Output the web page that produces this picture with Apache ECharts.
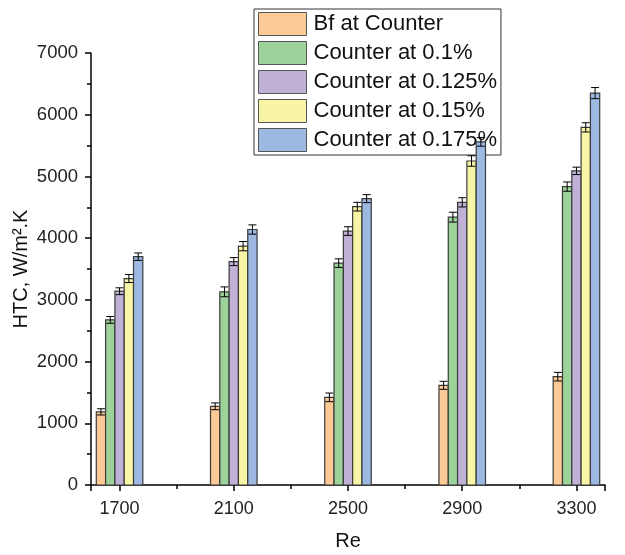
<!DOCTYPE html>
<html>
<head>
<meta charset="utf-8">
<script src="https://cdn.jsdelivr.net/npm/echarts@6/dist/echarts.min.js"></script>
<style>html,body{margin:0;padding:0;background:#fff;}#c{width:625px;height:555px;}</style>
</head>
<body>
<div id="c"></div>
<script>
const categories = ['1700', '2100', '2500', '2900', '3300'];
const seriesNames = ['Bf at Counter', 'Counter at 0.1%', 'Counter at 0.125%', 'Counter at 0.15%', 'Counter at 0.175%'];
const bfCounter   = [1185, 1275, 1420, 1615, 1755];
const counter010  = [2675, 3130, 3595, 4340, 4835];
const counter0125 = [3140, 3620, 4115, 4580, 5090];
const counter015  = [3345, 3870, 4510, 5250, 5795];
const counter0175 = [3700, 4140, 4640, 5560, 6350];
const errBf    = [50, 55, 70, 65, 70];
const err010   = [55, 80, 70, 80, 75];
const err0125  = [55, 65, 70, 75, 60];
const err015   = [65, 75, 70, 85, 75];
const err0175  = [60, 75, 65, 70, 90];
const yTicks = [0, 1000, 2000, 3000, 4000, 5000, 6000, 7000];

const values = [bfCounter, counter010, counter0125, counter015, counter0175];
const errors = [errBf, err010, err0125, err015, err0175];
const colors = ['#FDC997', '#9ED29B', '#C0B1D7', '#F8F5A7', '#9DB9E1'];

function makeSeries(k) {
  return {
    type: 'custom',
    name: seriesNames[k],
    z: 10,
    clip: false,
    itemStyle: { color: colors[k], borderColor: '#505050', borderWidth: 1 },
    encode: { x: 0, y: 1 },
    data: values[k].map((v, i) => [i, v, errors[k][i]]),
    renderItem: function (params, api) {
      const x = api.value(0), y = api.value(1), e = api.value(2);
      const unit = api.size([1, 0])[0];
      const bw = unit * 0.0815;
      const base = api.coord([x, 0]);
      const top = api.coord([x, y]);
      const cx = base[0] + (k - 2) * bw;
      const hi = api.coord([x, y + e])[1];
      const lo = api.coord([x, y - e])[1];
      const cap = 4;
      return {
        type: 'group',
        children: [
          { type: 'rect', shape: { x: cx - bw / 2, y: top[1], width: bw, height: base[1] - top[1] },
            style: { fill: colors[k], stroke: '#3a3a3a', lineWidth: 1.2 } },
          { type: 'line', shape: { x1: cx, y1: hi, x2: cx, y2: lo }, style: { stroke: '#000', lineWidth: 1 } },
          { type: 'line', shape: { x1: cx - cap, y1: hi, x2: cx + cap, y2: hi }, style: { stroke: '#000', lineWidth: 1 } },
          { type: 'line', shape: { x1: cx - cap, y1: lo, x2: cx + cap, y2: lo }, style: { stroke: '#000', lineWidth: 1 } }
        ]
      };
    }
  };
}

const chart = echarts.init(document.getElementById('c'), null, { renderer: 'canvas' });
chart.setOption({
  animation: false,
  backgroundColor: '#fff',
  textStyle: { fontFamily: 'Liberation Sans, Arial, sans-serif' },
  grid: { left: 91, right: 20, top: 53, bottom: 70, outerBoundsMode: 'none' },
  legend: {
    orient: 'vertical',
    left: 254, top: 9,
    z: 1,
    padding: [3, 4, 3, 4],
    itemWidth: 48, itemHeight: 23, itemGap: 5,
    icon: 'rect',
    backgroundColor: '#fff',
    borderColor: '#333', borderWidth: 1,
    itemStyle: { borderColor: '#555', borderWidth: 1 },
    textStyle: { fontSize: 22, color: '#111', padding: [0, 0, 0, 2] },
    data: seriesNames
  },
  xAxis: {
    type: 'value',
    min: -0.25, max: 4.25,
    splitNumber: 4,
    name: 'Re', nameLocation: 'middle', nameGap: 46, nameMoveOverlap: false,
    nameTextStyle: { fontSize: 20, color: '#111' },
    axisLine: { show: true, onZero: false, lineStyle: { color: '#000', width: 1.5 } },
    axisTick: { show: true, inside: false, length: 6, lineStyle: { color: '#000', width: 1.5 } },
    minorTick: { show: true, splitNumber: 2, length: 4, lineStyle: { color: '#000', width: 1.5 } },
    splitLine: { show: false },
    axisLabel: {
      fontSize: 18, color: '#222', margin: 15,
      formatter: function (v) { return Number.isInteger(v) && categories[v] !== undefined ? categories[v] : ''; }
    }
  },
  yAxis: {
    type: 'value',
    min: yTicks[0], max: yTicks[yTicks.length - 1], interval: 1000,
    name: 'HTC, W/m\u00B2.K', nameLocation: 'middle', nameGap: 60, nameRotate: 90, nameMoveOverlap: false,
    nameTextStyle: { fontSize: 20, color: '#111' },
    axisLine: { show: true, onZero: false, lineStyle: { color: '#000', width: 1.5 } },
    axisTick: { show: true, inside: false, length: 6, lineStyle: { color: '#000', width: 1.5 } },
    minorTick: { show: true, splitNumber: 2, length: 4, lineStyle: { color: '#000', width: 1.5 } },
    splitLine: { show: false },
    axisLabel: { fontSize: 18.5, color: '#222', margin: 13, formatter: function (v) { return String(v); } }
  },
  series: [0, 1, 2, 3, 4].map(makeSeries)
});
</script>
</body>
</html>
